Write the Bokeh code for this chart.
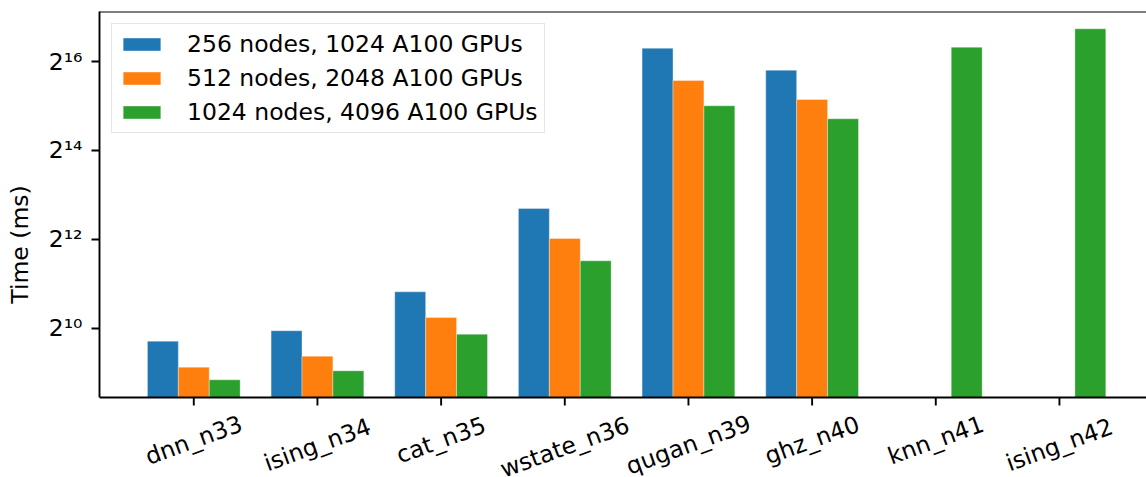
import math
from bokeh.plotting import figure
from bokeh.models import FixedTicker, Range1d, Span, ColumnDataSource
from bokeh.core.properties import value
from bokeh.embed import file_html
from bokeh.resources import INLINE

# ---------------- data ----------------
benchmarks = ["dnn_n33", "ising_n34", "cat_n35", "wstate_n36",
              "qugan_n39", "ghz_n40", "knn_n41", "ising_n42"]
series_names = ["256 nodes, 1024 A100 GPUs",
                "512 nodes, 2048 A100 GPUs",
                "1024 nodes, 4096 A100 GPUs"]
time_256 = [837, 984, 1806, 6622, 80597, 57210, None, None]
time_512 = [558, 662, 1210, 4148, 48750, 36235, None, None]
time_1024 = [458, 527, 933, 2929, 32836, 26821, 81933, 109163]
colors = ["#1f77b4", "#ff7f0e", "#2ca02c"]
y_ticks = [1024, 4096, 16384, 65536]
y_tick_labels = ["2\u00b9\u2070", "2\u00b9\u00b2", "2\u00b9\u2074", "2\u00b9\u2076"]

# ---------------- layout ----------------
W, H = 1146, 477
BORDER_L, BORDER_T = 99, 11
FONT = "DejaVu Sans"
FS_PX = 23.5
FS = f"{FS_PX}px"
bar_w = 0.25
offsets = [-0.25, 0.0, 0.25]
axis_exp = 8.441          # log2 of the value where the x axis sits
top_exp = 17.125          # log2 of the value at the top spine
axis_px = 397             # screen row of the x axis
px_per_exp = (axis_px - BORDER_T) / (top_exp - axis_exp)
bottom_exp = axis_exp - (H - axis_px) / px_per_exp
y_axis_val = 2 ** axis_exp
y_top_val = 2 ** top_exp
label_angle = 20.0
tick_len = 8

p = figure(width=W, height=H, y_axis_type="log", x_axis_location=None,
           x_range=Range1d(-0.7625, 7.704),
           y_range=Range1d(2 ** bottom_exp, y_top_val),
           output_backend="svg", toolbar_location=None,
           min_border_left=BORDER_L, min_border_right=0, min_border_top=BORDER_T,
           min_border_bottom=0)
p.outline_line_color = None
p.xgrid.visible = False
p.ygrid.visible = False
p.background_fill_color = "white"
p.border_fill_color = "white"

for vals, name, col, off in zip([time_256, time_512, time_1024], series_names, colors, offsets):
    xs = [i + off for i, v in enumerate(vals) if v is not None]
    tops = [v for v in vals if v is not None]
    src = ColumnDataSource(dict(x=xs, top=tops))
    p.vbar(x="x", top="top", bottom=y_axis_val, width=bar_w, source=src,
           fill_color=col, line_color="white", line_width=0.7, line_alpha=0.5,
           legend_label=name)

# spines: top and bottom (x axis line)
p.add_layout(Span(location=y_top_val, dimension="width", line_color="black", line_width=1.9))
p.add_layout(Span(location=y_axis_val, dimension="width", line_color="black", line_width=1.9))

# x ticks + centred, rotated category labels
cats = list(range(len(benchmarks)))
tick_end = y_axis_val * 2 ** (-tick_len / px_per_exp)
p.segment(x0=cats, x1=cats, y0=[y_axis_val] * len(cats), y1=[tick_end] * len(cats),
          line_color="black", line_width=1.9)

sin_a = math.sin(math.radians(label_angle))
cos_a = math.cos(math.radians(label_angle))
label_y = []
for name in benchmarks:
    est_len = len(name) * 0.58 * FS_PX
    half_h = (est_len * sin_a + 22 * cos_a) / 2
    label_y.append(y_axis_val * 2 ** (-(16 + half_h) / px_per_exp))
p.text(x=cats, y=label_y, text=benchmarks, angle=math.radians(label_angle),
       text_align="center", text_baseline="middle",
       text_font=value(FONT), text_font_size=value(FS), text_color="black")

# y axis
ya = p.yaxis[0]
ya.bounds = (y_axis_val, y_top_val)
ya.axis_line_width = 1.9
ya.axis_line_color = "black"
ya.major_tick_line_width = 1.9
ya.major_tick_line_color = "black"
ya.major_tick_out = tick_len
ya.major_tick_in = 0
ya.minor_tick_line_color = None
ya.major_label_text_font = FONT
ya.major_label_text_font_size = FS
ya.major_label_text_color = "black"
ya.major_label_standoff = 9
ya.ticker = FixedTicker(ticks=y_ticks)
ya.major_label_overrides = {t: l for t, l in zip(y_ticks, y_tick_labels)}
ya.axis_label = "Time (ms)"
ya.axis_label_text_font = FONT
ya.axis_label_text_font_size = FS
ya.axis_label_text_font_style = "normal"
ya.axis_label_text_color = "black"
ya.axis_label_standoff = 12

# legend
lg = p.legend[0]
lg.location = "top_left"
lg.margin = 12
lg.padding = 6
lg.spacing = 6
lg.glyph_width = 47
lg.glyph_height = 16
lg.label_standoff = 22
lg.label_text_font = FONT
lg.label_text_font_size = FS
lg.label_text_color = "black"
lg.border_line_color = "#cccccc"
lg.border_line_width = 1.5
lg.background_fill_alpha = 0.8

open("out.html", "w").write(file_html(p, INLINE))
